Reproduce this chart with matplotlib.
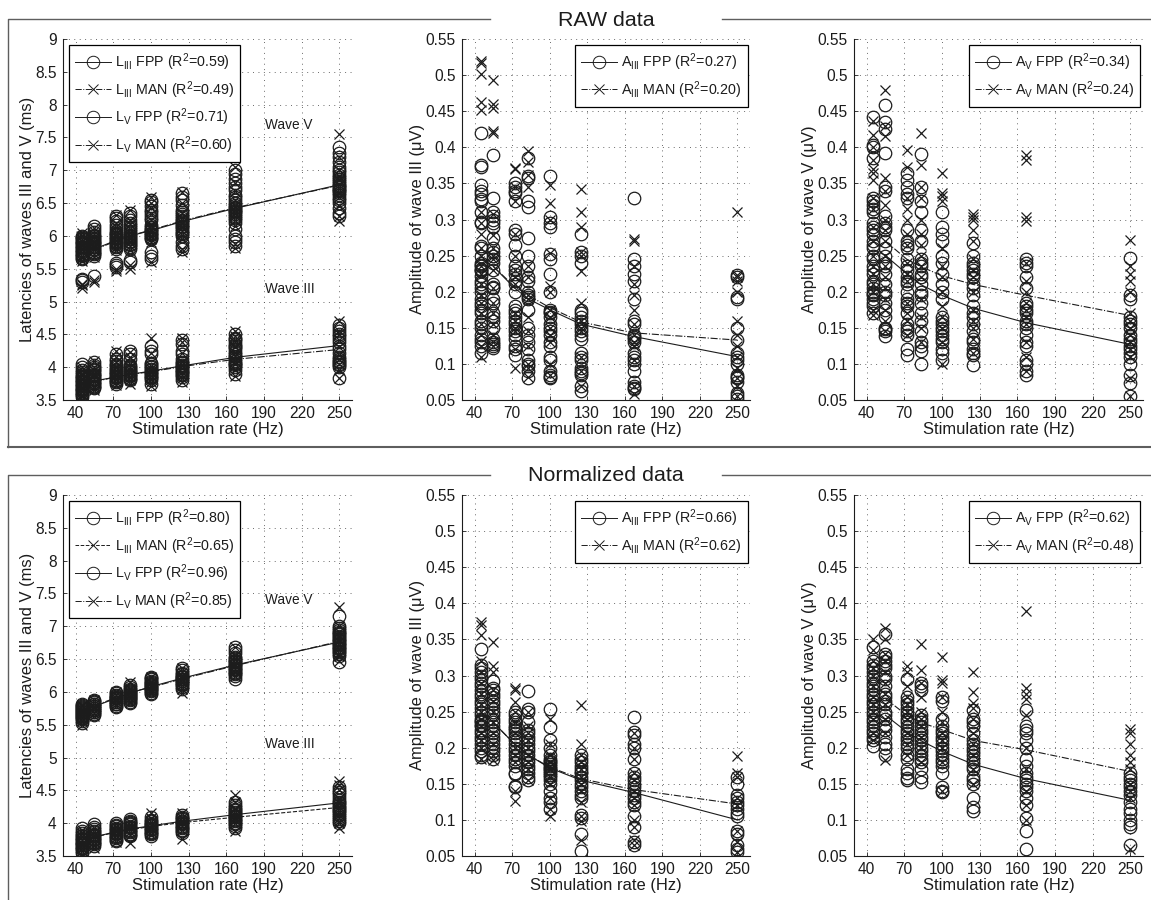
#!/usr/bin/env python
# coding: utf-8

import matplotlib
matplotlib.use('Agg')
import matplotlib.pyplot as plt
from matplotlib.lines import Line2D
from matplotlib.ticker import FormatStrFormatter

plt.rcParams['font.family'] = ['Liberation Sans', 'DejaVu Sans']
plt.rcParams['mathtext.fontset'] = 'custom'
plt.rcParams['mathtext.rm'] = 'Liberation Sans'
plt.rcParams['mathtext.default'] = 'rm'

RATES = [45, 55, 72, 83, 100, 125, 167, 250]
FIT_RATES = [55, 72, 83, 100, 125, 167, 250]
XTICKS = [40, 70, 100, 130, 160, 190, 220, 250]
LAT_TICKS = [3.5, 4, 4.5, 5, 5.5, 6, 6.5, 7, 7.5, 8, 8.5, 9]
AMP_TICKS = [0.05, 0.1, 0.15, 0.2, 0.25, 0.3, 0.35, 0.4, 0.45, 0.5, 0.55]

# ---- RAW latencies, one list per rate
rawL5Fpp = [
    [5.3, 5.33, 5.35, 5.65, 5.67, 5.69, 5.71, 5.73, 5.75, 5.77, 5.79, 5.81, 5.83, 5.85, 5.87, 5.89, 5.91, 5.93, 5.95, 5.97, 5.98, 6.0],
    [5.39, 5.7, 5.72, 5.74, 5.76, 5.78, 5.8, 5.83, 5.85, 5.87, 5.89, 5.91, 5.93, 5.95, 5.97, 6.0, 6.02, 6.06, 6.1, 6.15],
    [5.53, 5.55, 5.58, 5.8, 5.83, 5.85, 5.87, 5.89, 5.91, 5.93, 5.95, 5.97, 5.99, 6.01, 6.03, 6.05, 6.08, 6.12, 6.17, 6.22, 6.27, 6.3],
    [5.6, 5.63, 5.8, 5.83, 5.86, 5.88, 5.9, 5.93, 5.95, 5.97, 6.0, 6.02, 6.05, 6.08, 6.1, 6.14, 6.17, 6.2, 6.25, 6.3, 6.35],
    [5.65, 5.7, 5.75, 5.95, 5.97, 5.99, 6.01, 6.03, 6.05, 6.07, 6.09, 6.11, 6.13, 6.17, 6.24, 6.28, 6.32, 6.36, 6.4, 6.46, 6.52, 6.55],
    [5.8, 5.85, 5.9, 6.0, 6.03, 6.05, 6.08, 6.1, 6.13, 6.15, 6.18, 6.2, 6.22, 6.25, 6.27, 6.3, 6.33, 6.37, 6.4, 6.47, 6.55, 6.6, 6.65],
    [5.85, 5.9, 5.95, 6.0, 6.1, 6.2, 6.25, 6.28, 6.31, 6.33, 6.36, 6.38, 6.4, 6.42, 6.44, 6.47, 6.5, 6.55, 6.6, 6.63, 6.7, 6.75, 6.8, 6.87, 6.95, 7.0],
    [6.3, 6.35, 6.42, 6.5, 6.55, 6.58, 6.62, 6.65, 6.68, 6.7, 6.72, 6.74, 6.76, 6.78, 6.8, 6.83, 6.87, 6.9, 6.93, 6.97, 7.0, 7.05, 7.12, 7.2, 7.27, 7.35],
]
rawL5Man = [
    [5.2, 5.25, 5.27, 5.62, 5.66, 5.7, 5.75, 5.8, 5.84, 5.88, 5.92, 5.95, 6.0, 6.05],
    [5.3, 5.33, 5.68, 5.73, 5.78, 5.82, 5.85, 5.9, 5.95, 5.99, 6.03, 6.08, 6.12],
    [5.47, 5.5, 5.78, 5.83, 5.88, 5.93, 5.98, 6.03, 6.08, 6.14, 6.2, 6.32],
    [5.5, 5.55, 5.78, 5.85, 5.9, 5.95, 6.0, 6.05, 6.1, 6.18, 6.25, 6.4],
    [5.6, 5.9, 5.96, 6.0, 6.05, 6.1, 6.17, 6.25, 6.33, 6.42, 6.5, 6.6],
    [5.75, 5.8, 5.95, 6.02, 6.08, 6.14, 6.2, 6.27, 6.35, 6.5, 6.67],
    [5.82, 5.88, 6.15, 6.25, 6.3, 6.35, 6.4, 6.45, 6.55, 6.68, 6.8, 7.05],
    [6.22, 6.3, 6.45, 6.6, 6.66, 6.72, 6.78, 6.85, 6.92, 7.0, 7.2, 7.55],
]
rawL3Fpp = [
    [3.55, 3.57, 3.59, 3.61, 3.63, 3.65, 3.67, 3.69, 3.71, 3.73, 3.75, 3.77, 3.79, 3.81, 3.83, 3.85, 3.87, 3.9, 3.93, 3.96, 4.0, 4.05],
    [3.68, 3.7, 3.72, 3.74, 3.76, 3.78, 3.8, 3.82, 3.84, 3.86, 3.88, 3.9, 3.92, 3.95, 3.97, 4.0, 4.03, 4.08],
    [3.75, 3.77, 3.79, 3.81, 3.83, 3.85, 3.87, 3.89, 3.91, 3.93, 3.95, 3.97, 4.0, 4.03, 4.05, 4.1, 4.12, 4.2],
    [3.8, 3.82, 3.84, 3.86, 3.88, 3.9, 3.92, 3.94, 3.96, 3.98, 4.0, 4.03, 4.12, 4.2, 4.25],
    [3.75, 3.8, 3.83, 3.85, 3.87, 3.89, 3.91, 3.93, 3.95, 3.97, 4.0, 4.02, 4.05, 4.07, 4.2, 4.25, 4.33],
    [3.8, 3.85, 3.88, 3.9, 3.92, 3.94, 3.96, 3.98, 4.0, 4.02, 4.04, 4.06, 4.08, 4.12, 4.2, 4.25, 4.35, 4.42],
    [3.9, 3.95, 4.0, 4.03, 4.05, 4.07, 4.1, 4.12, 4.15, 4.17, 4.2, 4.23, 4.27, 4.3, 4.33, 4.36, 4.4, 4.43, 4.45, 4.5],
    [3.83, 4.0, 4.03, 4.05, 4.08, 4.1, 4.13, 4.15, 4.22, 4.28, 4.33, 4.38, 4.43, 4.47, 4.5, 4.55, 4.6, 4.65],
]
rawL3Man = [
    [3.5, 3.54, 3.58, 3.62, 3.66, 3.7, 3.74, 3.78, 3.82, 3.86, 3.9, 3.95, 4.0],
    [3.65, 3.68, 3.72, 3.77, 3.82, 3.86, 3.9, 3.95, 4.0, 4.1],
    [3.73, 3.78, 3.82, 3.86, 3.9, 3.95, 4.0, 4.08, 4.15, 4.25],
    [3.75, 3.8, 3.85, 3.9, 3.95, 4.0, 4.05, 4.15, 4.23],
    [3.72, 3.78, 3.82, 3.87, 3.92, 3.97, 4.02, 4.22, 4.45],
    [3.77, 3.83, 3.88, 3.93, 3.98, 4.03, 4.08, 4.22, 4.38, 4.45],
    [3.87, 3.95, 4.05, 4.1, 4.17, 4.22, 4.3, 4.38, 4.42, 4.48, 4.55],
    [3.83, 3.95, 4.05, 4.12, 4.18, 4.3, 4.42, 4.5, 4.55, 4.7],
]

# ---- normalized latencies
normL5Fpp = [
    [5.52, 5.56, 5.58, 5.6, 5.62, 5.63, 5.65, 5.66, 5.68, 5.69, 5.71, 5.72, 5.74, 5.75, 5.77, 5.78, 5.8, 5.82],
    [5.65, 5.67, 5.69, 5.7, 5.72, 5.73, 5.75, 5.76, 5.78, 5.79, 5.81, 5.82, 5.84, 5.86, 5.88],
    [5.77, 5.79, 5.81, 5.82, 5.84, 5.85, 5.87, 5.88, 5.9, 5.91, 5.93, 5.94, 5.96, 5.98, 6.0],
    [5.83, 5.85, 5.87, 5.89, 5.91, 5.92, 5.94, 5.95, 5.97, 5.98, 6.0, 6.01, 6.03, 6.05, 6.08, 6.1],
    [5.97, 5.99, 6.01, 6.03, 6.04, 6.06, 6.07, 6.09, 6.1, 6.12, 6.13, 6.15, 6.17, 6.19, 6.21, 6.23],
    [6.05, 6.08, 6.1, 6.12, 6.14, 6.16, 6.17, 6.19, 6.2, 6.22, 6.23, 6.25, 6.27, 6.29, 6.33, 6.37],
    [6.2, 6.24, 6.27, 6.29, 6.31, 6.33, 6.35, 6.37, 6.39, 6.41, 6.43, 6.45, 6.47, 6.49, 6.51, 6.53, 6.6, 6.64, 6.68],
    [6.45, 6.55, 6.58, 6.61, 6.63, 6.65, 6.67, 6.69, 6.71, 6.73, 6.75, 6.77, 6.79, 6.81, 6.83, 6.85, 6.88, 6.9, 6.92, 6.95, 6.98, 7.0, 7.15],
]
normL5Man = [
    [5.5, 5.56, 5.6, 5.65, 5.7, 5.74, 5.78, 5.8],
    [5.63, 5.68, 5.72, 5.77, 5.82, 5.88],
    [5.78, 5.82, 5.86, 5.9, 5.95, 6.0],
    [5.85, 5.9, 5.95, 6.0, 6.05, 6.15],
    [5.98, 6.02, 6.05, 6.1, 6.15, 6.22],
    [5.98, 6.05, 6.1, 6.15, 6.2, 6.25, 6.3, 6.36],
    [6.25, 6.3, 6.35, 6.4, 6.45, 6.5, 6.55, 6.68],
    [6.47, 6.55, 6.6, 6.66, 6.72, 6.78, 6.85, 6.92, 7.0, 7.3],
]
normL3Fpp = [
    [3.55, 3.58, 3.6, 3.62, 3.64, 3.66, 3.68, 3.7, 3.72, 3.74, 3.76, 3.78, 3.8, 3.82, 3.85, 3.88, 3.92],
    [3.65, 3.68, 3.7, 3.72, 3.74, 3.76, 3.78, 3.8, 3.82, 3.84, 3.86, 3.88, 3.91, 3.94, 3.98],
    [3.73, 3.75, 3.77, 3.79, 3.81, 3.83, 3.85, 3.87, 3.89, 3.91, 3.93, 3.95, 3.97, 4.0],
    [3.8, 3.82, 3.84, 3.86, 3.88, 3.9, 3.92, 3.94, 3.96, 3.98, 4.0, 4.02, 4.04, 4.07],
    [3.8, 3.83, 3.85, 3.87, 3.89, 3.91, 3.93, 3.95, 3.97, 3.99, 4.01, 4.03, 4.05, 4.1],
    [3.85, 3.88, 3.9, 3.92, 3.94, 3.96, 3.98, 4.0, 4.02, 4.04, 4.06, 4.08, 4.1, 4.13],
    [3.92, 3.96, 3.99, 4.01, 4.03, 4.05, 4.07, 4.09, 4.11, 4.13, 4.15, 4.17, 4.2, 4.22, 4.25, 4.28, 4.33],
    [4.0, 4.03, 4.06, 4.09, 4.12, 4.15, 4.18, 4.2, 4.23, 4.25, 4.28, 4.3, 4.33, 4.35, 4.4, 4.45, 4.48, 4.5, 4.55],
]
normL3Man = [
    [3.52, 3.57, 3.62, 3.66, 3.7, 3.75, 3.8, 3.85, 3.9],
    [3.62, 3.67, 3.72, 3.77, 3.82, 3.87, 3.92],
    [3.72, 3.77, 3.82, 3.86, 3.9, 3.94, 3.98],
    [3.7, 3.82, 3.87, 3.92, 3.97, 4.02],
    [3.82, 3.87, 3.92, 3.97, 4.02, 4.08, 4.15],
    [3.76, 3.9, 3.95, 4.0, 4.04, 4.08, 4.15],
    [3.88, 4.0, 4.05, 4.1, 4.15, 4.22, 4.33, 4.43],
    [3.93, 4.0, 4.03, 4.08, 4.13, 4.18, 4.25, 4.3, 4.37, 4.5, 4.58, 4.65],
]

# ---- RAW amplitudes
rawA3Fpp = [
    [0.42, 0.375, 0.373, 0.348, 0.34, 0.335, 0.328, 0.325, 0.31, 0.297, 0.295, 0.263, 0.26, 0.25, 0.24, 0.237, 0.235, 0.232, 0.23, 0.228, 0.222, 0.215, 0.21, 0.205, 0.2, 0.19, 0.185, 0.18, 0.175, 0.17, 0.16, 0.155, 0.15, 0.14, 0.135, 0.13, 0.125, 0.115],
    [0.39, 0.33, 0.31, 0.305, 0.3, 0.295, 0.29, 0.275, 0.26, 0.255, 0.25, 0.245, 0.24, 0.23, 0.21, 0.207, 0.205, 0.19, 0.185, 0.17, 0.165, 0.16, 0.15, 0.135, 0.13, 0.128, 0.125, 0.122],
    [0.35, 0.345, 0.34, 0.337, 0.325, 0.285, 0.28, 0.265, 0.25, 0.235, 0.23, 0.225, 0.215, 0.21, 0.2, 0.18, 0.175, 0.17, 0.165, 0.16, 0.155, 0.15, 0.145, 0.14, 0.135, 0.125, 0.12, 0.112],
    [0.385, 0.36, 0.358, 0.325, 0.318, 0.275, 0.25, 0.235, 0.22, 0.215, 0.2, 0.195, 0.193, 0.19, 0.175, 0.15, 0.14, 0.13, 0.12, 0.105, 0.1, 0.097, 0.09, 0.08],
    [0.36, 0.303, 0.295, 0.29, 0.252, 0.245, 0.225, 0.2, 0.175, 0.172, 0.17, 0.165, 0.155, 0.15, 0.145, 0.14, 0.13, 0.125, 0.11, 0.105, 0.09, 0.085, 0.082, 0.08],
    [0.28, 0.255, 0.25, 0.24, 0.175, 0.17, 0.165, 0.16, 0.155, 0.15, 0.145, 0.14, 0.135, 0.115, 0.11, 0.105, 0.095, 0.09, 0.087, 0.085, 0.07, 0.062],
    [0.33, 0.245, 0.235, 0.225, 0.215, 0.19, 0.16, 0.155, 0.14, 0.137, 0.135, 0.13, 0.115, 0.11, 0.105, 0.1, 0.09, 0.075, 0.07, 0.067, 0.065],
    [0.223, 0.22, 0.192, 0.19, 0.15, 0.133, 0.115, 0.11, 0.105, 0.1, 0.085, 0.082, 0.08, 0.075, 0.06, 0.055, 0.052],
]
rawA3Man = [
    [0.52, 0.517, 0.502, 0.463, 0.452, 0.31, 0.295, 0.28, 0.26, 0.25, 0.235, 0.225, 0.21, 0.195, 0.185, 0.17, 0.155, 0.14, 0.125, 0.11],
    [0.493, 0.46, 0.455, 0.423, 0.42, 0.308, 0.278, 0.26, 0.25, 0.245, 0.23, 0.205, 0.185, 0.17, 0.155, 0.14, 0.13, 0.125],
    [0.372, 0.37, 0.345, 0.325, 0.28, 0.25, 0.23, 0.22, 0.21, 0.17, 0.16, 0.15, 0.145, 0.12, 0.095],
    [0.395, 0.38, 0.362, 0.345, 0.235, 0.22, 0.195, 0.19, 0.165, 0.145, 0.125, 0.1, 0.095, 0.082],
    [0.348, 0.323, 0.3, 0.253, 0.208, 0.2, 0.175, 0.165, 0.15, 0.14, 0.13, 0.1, 0.085],
    [0.342, 0.31, 0.29, 0.255, 0.25, 0.228, 0.185, 0.16, 0.15, 0.145, 0.11, 0.09, 0.07],
    [0.273, 0.27, 0.235, 0.21, 0.195, 0.175, 0.155, 0.14, 0.13, 0.125, 0.105, 0.07, 0.058],
    [0.31, 0.223, 0.22, 0.215, 0.2, 0.16, 0.14, 0.125, 0.11, 0.095, 0.08, 0.07, 0.055],
]
rawA5Fpp = [
    [0.442, 0.403, 0.4, 0.385, 0.33, 0.325, 0.32, 0.315, 0.31, 0.295, 0.29, 0.285, 0.28, 0.27, 0.265, 0.26, 0.25, 0.245, 0.235, 0.23, 0.225, 0.215, 0.21, 0.205, 0.2, 0.197, 0.195, 0.19, 0.185, 0.18, 0.17],
    [0.458, 0.435, 0.425, 0.392, 0.345, 0.34, 0.305, 0.295, 0.29, 0.285, 0.27, 0.26, 0.25, 0.24, 0.235, 0.225, 0.21, 0.2, 0.195, 0.185, 0.175, 0.165, 0.15, 0.148, 0.145, 0.138],
    [0.365, 0.355, 0.345, 0.335, 0.33, 0.285, 0.27, 0.265, 0.26, 0.245, 0.235, 0.23, 0.22, 0.215, 0.21, 0.2, 0.19, 0.185, 0.18, 0.17, 0.155, 0.15, 0.145, 0.14, 0.12, 0.113],
    [0.391, 0.345, 0.325, 0.31, 0.285, 0.27, 0.245, 0.24, 0.235, 0.225, 0.22, 0.21, 0.2, 0.195, 0.185, 0.17, 0.16, 0.145, 0.13, 0.125, 0.118, 0.1],
    [0.31, 0.29, 0.28, 0.27, 0.25, 0.24, 0.225, 0.21, 0.2, 0.19, 0.165, 0.16, 0.155, 0.15, 0.145, 0.14, 0.135, 0.13, 0.12, 0.115, 0.105],
    [0.268, 0.25, 0.24, 0.235, 0.23, 0.225, 0.22, 0.21, 0.205, 0.195, 0.18, 0.17, 0.165, 0.155, 0.145, 0.135, 0.13, 0.12, 0.115, 0.112, 0.098],
    [0.245, 0.24, 0.235, 0.22, 0.205, 0.185, 0.18, 0.175, 0.17, 0.16, 0.155, 0.15, 0.14, 0.13, 0.125, 0.105, 0.1, 0.09, 0.085],
    [0.246, 0.195, 0.19, 0.165, 0.16, 0.155, 0.15, 0.14, 0.135, 0.13, 0.125, 0.12, 0.115, 0.11, 0.1, 0.085, 0.073, 0.055],
]
rawA5Man = [
    [0.437, 0.417, 0.4, 0.382, 0.37, 0.365, 0.355, 0.33, 0.315, 0.29, 0.27, 0.25, 0.235, 0.225, 0.21, 0.2, 0.175, 0.168],
    [0.479, 0.43, 0.415, 0.358, 0.34, 0.32, 0.3, 0.285, 0.27, 0.25, 0.235, 0.22, 0.205, 0.19, 0.175, 0.16, 0.145],
    [0.396, 0.373, 0.33, 0.315, 0.3, 0.28, 0.265, 0.24, 0.225, 0.215, 0.185, 0.17, 0.16, 0.14],
    [0.42, 0.375, 0.345, 0.33, 0.3, 0.28, 0.265, 0.25, 0.235, 0.22, 0.19, 0.165, 0.15, 0.13],
    [0.365, 0.337, 0.333, 0.325, 0.26, 0.235, 0.22, 0.2, 0.18, 0.165, 0.15, 0.13, 0.1],
    [0.307, 0.303, 0.3, 0.285, 0.27, 0.245, 0.23, 0.22, 0.2, 0.175, 0.16, 0.15, 0.135, 0.115],
    [0.39, 0.383, 0.303, 0.298, 0.24, 0.215, 0.2, 0.185, 0.175, 0.165, 0.155, 0.13, 0.11, 0.09],
    [0.271, 0.235, 0.225, 0.215, 0.2, 0.17, 0.16, 0.15, 0.14, 0.13, 0.12, 0.11, 0.08, 0.055],
]

# ---- normalized amplitudes
normA3Fpp = [
    [0.337, 0.315, 0.31, 0.305, 0.3, 0.295, 0.29, 0.285, 0.28, 0.275, 0.27, 0.265, 0.26, 0.255, 0.25, 0.245, 0.24, 0.237, 0.235, 0.232, 0.23, 0.225, 0.22, 0.215, 0.21, 0.205, 0.2, 0.195, 0.19, 0.187],
    [0.293, 0.283, 0.28, 0.275, 0.27, 0.265, 0.26, 0.255, 0.25, 0.245, 0.24, 0.235, 0.23, 0.225, 0.22, 0.215, 0.21, 0.205, 0.2, 0.195, 0.19, 0.185],
    [0.25, 0.245, 0.24, 0.235, 0.23, 0.227, 0.225, 0.22, 0.215, 0.21, 0.205, 0.2, 0.195, 0.19, 0.185, 0.18, 0.175, 0.165, 0.163, 0.147, 0.145],
    [0.278, 0.253, 0.25, 0.235, 0.225, 0.22, 0.215, 0.21, 0.205, 0.2, 0.195, 0.19, 0.185, 0.18, 0.175, 0.17, 0.165, 0.16, 0.155],
    [0.254, 0.228, 0.21, 0.2, 0.19, 0.185, 0.182, 0.18, 0.178, 0.175, 0.172, 0.17, 0.168, 0.165, 0.162, 0.16, 0.155, 0.15, 0.14, 0.13, 0.125, 0.115],
    [0.19, 0.185, 0.18, 0.175, 0.17, 0.167, 0.165, 0.16, 0.155, 0.15, 0.145, 0.14, 0.135, 0.13, 0.107, 0.103, 0.08, 0.057],
    [0.243, 0.222, 0.218, 0.205, 0.2, 0.185, 0.165, 0.16, 0.155, 0.15, 0.145, 0.14, 0.135, 0.13, 0.125, 0.12, 0.105, 0.09, 0.07, 0.065],
    [0.16, 0.15, 0.135, 0.13, 0.125, 0.12, 0.115, 0.11, 0.105, 0.085, 0.08, 0.065, 0.06, 0.055],
]
normA3Man = [
    [0.374, 0.37, 0.356, 0.32, 0.305, 0.29, 0.275, 0.26, 0.25, 0.24, 0.23, 0.22, 0.21, 0.2, 0.185],
    [0.346, 0.313, 0.305, 0.28, 0.265, 0.25, 0.235, 0.22, 0.205, 0.19, 0.183],
    [0.282, 0.28, 0.263, 0.25, 0.235, 0.22, 0.2, 0.19, 0.18, 0.14, 0.126],
    [0.25, 0.23, 0.22, 0.21, 0.2, 0.19, 0.18, 0.17, 0.155],
    [0.24, 0.205, 0.19, 0.18, 0.175, 0.17, 0.16, 0.15, 0.13, 0.115, 0.105],
    [0.259, 0.205, 0.19, 0.18, 0.17, 0.16, 0.15, 0.14, 0.125, 0.105, 0.098, 0.072],
    [0.22, 0.2, 0.185, 0.165, 0.155, 0.14, 0.13, 0.12, 0.1, 0.09, 0.072, 0.065],
    [0.189, 0.165, 0.16, 0.13, 0.12, 0.085, 0.07, 0.055],
]
normA5Fpp = [
    [0.34, 0.32, 0.315, 0.31, 0.305, 0.3, 0.295, 0.29, 0.285, 0.28, 0.275, 0.27, 0.265, 0.26, 0.255, 0.25, 0.245, 0.24, 0.235, 0.23, 0.225, 0.22, 0.215, 0.21, 0.202],
    [0.357, 0.33, 0.325, 0.32, 0.315, 0.31, 0.3, 0.295, 0.285, 0.275, 0.27, 0.265, 0.26, 0.25, 0.245, 0.24, 0.23, 0.225, 0.215, 0.205, 0.2, 0.19],
    [0.295, 0.27, 0.265, 0.26, 0.255, 0.25, 0.245, 0.24, 0.235, 0.23, 0.225, 0.22, 0.215, 0.21, 0.205, 0.2, 0.19, 0.185, 0.17, 0.165, 0.158, 0.155],
    [0.29, 0.285, 0.28, 0.245, 0.24, 0.235, 0.23, 0.225, 0.22, 0.215, 0.21, 0.205, 0.2, 0.195, 0.19, 0.185, 0.18, 0.17, 0.16, 0.153],
    [0.27, 0.265, 0.24, 0.23, 0.225, 0.22, 0.215, 0.21, 0.205, 0.2, 0.195, 0.19, 0.185, 0.18, 0.175, 0.165, 0.145, 0.14, 0.138],
    [0.252, 0.24, 0.235, 0.23, 0.22, 0.21, 0.205, 0.2, 0.195, 0.19, 0.185, 0.18, 0.175, 0.17, 0.16, 0.155, 0.15, 0.13, 0.118, 0.112],
    [0.252, 0.23, 0.225, 0.22, 0.21, 0.2, 0.185, 0.175, 0.165, 0.16, 0.155, 0.15, 0.145, 0.14, 0.13, 0.12, 0.103, 0.085, 0.06],
    [0.165, 0.16, 0.155, 0.15, 0.145, 0.14, 0.135, 0.125, 0.115, 0.11, 0.1, 0.095, 0.09, 0.065],
]
normA5Man = [
    [0.35, 0.335, 0.32, 0.31, 0.3, 0.285, 0.27, 0.26, 0.25, 0.24, 0.22, 0.21],
    [0.366, 0.35, 0.33, 0.32, 0.305, 0.29, 0.275, 0.26, 0.24, 0.22, 0.183],
    [0.313, 0.305, 0.285, 0.27, 0.26, 0.25, 0.24, 0.22, 0.205, 0.19],
    [0.344, 0.307, 0.29, 0.27, 0.25, 0.24, 0.23, 0.215, 0.2, 0.18],
    [0.325, 0.294, 0.29, 0.27, 0.25, 0.235, 0.22, 0.21, 0.2, 0.18, 0.14],
    [0.305, 0.277, 0.262, 0.255, 0.24, 0.22, 0.205, 0.19, 0.17, 0.15],
    [0.39, 0.282, 0.275, 0.268, 0.245, 0.2, 0.17, 0.14, 0.12, 0.1],
    [0.226, 0.22, 0.205, 0.19, 0.18, 0.17, 0.15, 0.14, 0.13, 0.06],
]

# ---- fit curves, from 55 Hz on (below that they vanish in the marks)
rawL5FitFpp = [5.8, 5.93, 6.0, 6.08, 6.22, 6.42, 6.78]
rawL5FitMan = [5.79, 5.92, 6.0, 6.09, 6.23, 6.43, 6.77]
rawL3FitFpp = [3.79, 3.85, 3.89, 3.94, 4.02, 4.15, 4.33]
rawL3FitMan = [3.78, 3.85, 3.89, 3.93, 4.01, 4.12, 4.27]
normL5FitFpp = [5.78, 5.9, 5.98, 6.08, 6.21, 6.41, 6.76]
normL5FitMan = [5.79, 5.91, 5.99, 6.07, 6.2, 6.4, 6.77]
normL3FitFpp = [3.79, 3.87, 3.91, 3.96, 4.03, 4.13, 4.31]
normL3FitMan = [3.79, 3.86, 3.9, 3.95, 4.01, 4.09, 4.24]
rawA3FitFpp = [0.235, 0.205, 0.19, 0.175, 0.155, 0.138, 0.11]
rawA3FitMan = [0.235, 0.207, 0.195, 0.178, 0.158, 0.143, 0.133]
rawA5FitFpp = [0.25, 0.225, 0.21, 0.195, 0.177, 0.157, 0.127]
rawA5FitMan = [0.27, 0.245, 0.235, 0.222, 0.21, 0.195, 0.167]
normA3FitFpp = [0.235, 0.205, 0.19, 0.172, 0.155, 0.138, 0.1]
normA3FitMan = [0.235, 0.205, 0.19, 0.173, 0.157, 0.142, 0.122]
normA5FitFpp = [0.245, 0.222, 0.21, 0.195, 0.177, 0.157, 0.127]
normA5FitMan = [0.268, 0.245, 0.235, 0.225, 0.21, 0.197, 0.167]

INK = '#1c1c1c'
FIG_W = 1151.0
FIG_H = 900.0
CIRCLE = 9.0
CROSS = 7.0


def pixAxes(fig, x0, x1, y0, y1):
    return fig.add_axes([x0 / FIG_W, 1 - y1 / FIG_H, (x1 - x0) / FIG_W, (y1 - y0) / FIG_H])


def pixLine(fig, xs, ys, color='#5e5e5e', lw=1.0):
    fig.add_artist(Line2D([x / FIG_W for x in xs], [1 - y / FIG_H for y in ys],
                          color=color, lw=lw, transform=fig.transFigure))


def scatterColumns(ax, columns, marker, size):
    for rate, values in zip(RATES, columns):
        ax.plot([rate] * len(values), values, linestyle='none', marker=marker, ms=size,
                mfc='none', mec=INK, mew=0.9, zorder=3)


def styleAxes(ax, yticks, ylabel):
    ax.set_xlim(30, 260)
    ax.set_ylim(yticks[0], yticks[-1])
    ax.set_xticks(XTICKS)
    ax.set_yticks(yticks)
    ax.yaxis.set_major_formatter(FormatStrFormatter('%g'))
    ax.grid(True, linestyle=(0, (1, 5)), linewidth=0.65, color='#555555')
    ax.set_axisbelow(True)
    ax.spines['top'].set_visible(False)
    ax.spines['right'].set_visible(False)
    for side in ['left', 'bottom']:
        ax.spines[side].set_linewidth(0.8)
        ax.spines[side].set_color(INK)
    ax.tick_params(direction='in', length=3, width=0.6, labelsize=11.2, colors=INK, pad=4.5)
    ax.set_xlabel('Stimulation rate (Hz)', fontsize=11.9, color=INK, labelpad=0.5)
    ax.set_ylabel(ylabel, fontsize=11.9, color=INK, labelpad=0.5)


def makeHandle(marker, ls, size):
    return Line2D([0], [0], color=INK, lw=0.7, ls=ls, marker=marker, ms=size, mfc='none', mec=INK, mew=0.7)


def putLegend(ax, handles, labels, x0, y0, fig):
    # position given in pixels of the figure
    ax.legend(handles, labels, loc='upper left', bbox_to_anchor=(x0 / FIG_W, 1 - y0 / FIG_H),
              bbox_transform=fig.transFigure, fontsize=10.3, fancybox=False, framealpha=1,
              edgecolor='black', numpoints=1, borderpad=0.42, labelspacing=0.44,
              handlelength=2.5, handletextpad=0.3, borderaxespad=0, labelcolor=INK,
              ).get_frame().set_linewidth(0.9)


def panelLatency(fig, box, l3Fpp, l3Man, l5Fpp, l5Man, l3FitFpp, l3FitMan, l5FitFpp, l5FitMan,
                 labels, l3ManStyle, waveVy, waveIIIy):
    ax = pixAxes(fig, *box)
    scatterColumns(ax, l3Fpp, 'o', CIRCLE)
    scatterColumns(ax, l3Man, 'x', CROSS)
    scatterColumns(ax, l5Fpp, 'o', CIRCLE)
    scatterColumns(ax, l5Man, 'x', CROSS)
    ax.plot(FIT_RATES, l3FitFpp, '-', color=INK, lw=0.8, zorder=4)
    ax.plot(FIT_RATES, l3FitMan, l3ManStyle, color=INK, lw=0.8, zorder=4)
    ax.plot(FIT_RATES, l5FitFpp, '-', color=INK, lw=0.8, zorder=4)
    ax.plot(FIT_RATES, l5FitMan, '-.', color=INK, lw=0.8, zorder=4)
    styleAxes(ax, LAT_TICKS, 'Latencies of waves III and V (ms)')
    ax.text(191, waveVy, 'Wave V', fontsize=9.8, color=INK, va='center')
    ax.text(191, waveIIIy, 'Wave III', fontsize=9.8, color=INK, va='center')
    handles = [makeHandle('o', '-', CIRCLE), makeHandle('x', l3ManStyle, CROSS),
               makeHandle('o', '-', CIRCLE), makeHandle('x', '-.', CROSS)]
    putLegend(ax, handles, labels, box[0] + 6, box[2] + 6, fig)


def panelAmplitude(fig, box, fpp, man, fitFpp, fitMan, ylabel, labels, legendX):
    ax = pixAxes(fig, *box)
    scatterColumns(ax, fpp, 'o', CIRCLE)
    scatterColumns(ax, man, 'x', CROSS)
    ax.plot(FIT_RATES, fitFpp, '-', color=INK, lw=0.8, zorder=4)
    ax.plot(FIT_RATES, fitMan, '-.', color=INK, lw=0.8, zorder=4)
    styleAxes(ax, AMP_TICKS, ylabel)
    handles = [makeHandle('o', '-', CIRCLE), makeHandle('x', '-.', CROSS)]
    putLegend(ax, handles, labels, legendX, box[2] + 6, fig)


def lab(name, sub, method, r2):
    return '%s$_{\\mathrm{%s}}$ %s (R$^{2}$=%s)' % (name, sub, method, r2)


if __name__ == "__main__":

    fig = plt.figure(figsize=(11.51, 9), dpi=100)

    # outer frames with the headings set into them
    pixLine(fig, [490, 8, 8], [19, 19, 447])
    pixLine(fig, [8, 1151], [447, 447], lw=1.5)
    pixLine(fig, [722, 1151], [19, 19])
    pixLine(fig, [490, 8, 8], [474.5, 474.5, 900])
    pixLine(fig, [722, 1151], [474.5, 474.5])
    fig.text(606 / FIG_W, 1 - 20.5 / FIG_H, 'RAW data', fontsize=15.4, color=INK, ha='center', va='center')
    fig.text(606 / FIG_W, 1 - 476 / FIG_H, 'Normalized data', fontsize=15.4, color=INK, ha='center', va='center')

    panelLatency(fig, (63, 352, 39, 400), rawL3Fpp, rawL3Man, rawL5Fpp, rawL5Man,
                 rawL3FitFpp, rawL3FitMan, rawL5FitFpp, rawL5FitMan,
                 [lab('L', 'III', 'FPP', '0.59'), lab('L', 'III', 'MAN', '0.49'),
                  lab('L', 'V', 'FPP', '0.71'), lab('L', 'V', 'MAN', '0.60')], '-.', 7.69, 5.19)
    panelAmplitude(fig, (462, 750, 39, 400), rawA3Fpp, rawA3Man, rawA3FitFpp, rawA3FitMan,
                   'Amplitude of wave III (μV)',
                   [lab('A', 'III', 'FPP', '0.27'), lab('A', 'III', 'MAN', '0.20')], 575)
    panelAmplitude(fig, (854, 1143, 39, 400), rawA5Fpp, rawA5Man, rawA5FitFpp, rawA5FitMan,
                   'Amplitude of wave V (μV)',
                   [lab('A', 'V', 'FPP', '0.34'), lab('A', 'V', 'MAN', '0.24')], 969)

    panelLatency(fig, (63, 352, 495, 856), normL3Fpp, normL3Man, normL5Fpp, normL5Man,
                 normL3FitFpp, normL3FitMan, normL5FitFpp, normL5FitMan,
                 [lab('L', 'III', 'FPP', '0.80'), lab('L', 'III', 'MAN', '0.65'),
                  lab('L', 'V', 'FPP', '0.96'), lab('L', 'V', 'MAN', '0.85')], '--', 7.4, 5.2)
    panelAmplitude(fig, (462, 750, 495, 856), normA3Fpp, normA3Man, normA3FitFpp, normA3FitMan,
                   'Amplitude of wave III (μV)',
                   [lab('A', 'III', 'FPP', '0.66'), lab('A', 'III', 'MAN', '0.62')], 575)
    panelAmplitude(fig, (854, 1143, 495, 856), normA5Fpp, normA5Man, normA5FitFpp, normA5FitMan,
                   'Amplitude of wave V (μV)',
                   [lab('A', 'V', 'FPP', '0.62'), lab('A', 'V', 'MAN', '0.48')], 969)

    plt.savefig('out.png', dpi=100)
    plt.close()
